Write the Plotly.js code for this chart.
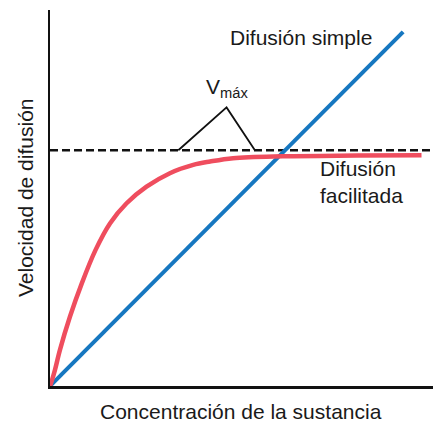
<!DOCTYPE html>
<html>
<head>
<meta charset="utf-8">
<script src="https://cdn.plot.ly/plotly-3.0.1.min.js"></script>
<style>
  html, body { margin: 0; padding: 0; background: #fff; }
  #graph { width: 433px; height: 422px; }
</style>
</head>
<body>
<div id="graph"></div>
<script>
// concentración (x) y velocidad (y), en unidades arbitrarias 0..100
const simpleX = [0, 92.2];
const simpleY = [0, 94.2];

const facilitadaX = [0, 0.5, 1.3, 2.6, 5.2, 8.3, 11.9, 15.7, 20, 25.2, 31.3, 37.4, 41.8, 47.8, 60.8, 80, 97];
const facilitadaY = [0, 1.5, 4.3, 9.6, 18.4, 27.3, 36.2, 43.3, 48.6, 53, 56.6, 58.8, 59.7, 60.6, 61.1, 61.3, 61.4];

const vmaxX = [0, 100];
const vmaxY = [62.7, 62.7];

const bracketX = [33.5, 46.1, 53.5];
const bracketY = [62.7, 74.1, 62.7];

const labels = {
  simple: 'Difusión simple',
  facilitada: 'Difusión<br>facilitada',
  vmax: 'V<sub>máx</sub>',
  xTitle: 'Concentración de la sustancia',
  yTitle: 'Velocidad de difusión'
};

const FONT = 'Liberation Sans, Arial, Helvetica, sans-serif';

function lineTrace(x, y, line) {
  return {
    type: 'scatter',
    mode: 'lines',
    x,
    y,
    hoverinfo: 'skip',
    line
  };
}

const traces = [
  lineTrace(vmaxX, vmaxY, { color: '#111111', width: 2.5, dash: '8px,4px' }),
  lineTrace(bracketX, bracketY, { color: '#111111', width: 1.8 }),
  lineTrace(simpleX, simpleY, { color: '#1677c0', width: 4 }),
  lineTrace(facilitadaX, facilitadaY, { color: '#ef4d5e', width: 4.5, shape: 'spline' })
];

const axisBase = {
  showgrid: false,
  zeroline: false,
  showticklabels: false,
  ticks: '',
  showline: true,
  linecolor: '#111111',
  linewidth: 2.5,
  fixedrange: true
};

const layout = {
  width: 433,
  height: 422,
  margin: { l: 50, r: 0, t: 10, b: 36 },
  paper_bgcolor: '#ffffff',
  plot_bgcolor: '#ffffff',
  showlegend: false,
  font: { family: FONT, color: '#1a1a1a', size: 21 },
  xaxis: Object.assign({ range: [0, 100] }, axisBase),
  yaxis: Object.assign({ range: [0, 100] }, axisBase),
  annotations: [
    {
      x: 65.5, y: 92.6, text: labels.simple, showarrow: false,
      xanchor: 'center', yanchor: 'middle'
    },
    {
      x: 40.2, y: 79.3, text: labels.vmax, showarrow: false,
      xanchor: 'left', yanchor: 'middle'
    },
    {
      x: 70, y: 54.3, text: labels.facilitada, showarrow: false,
      xanchor: 'left', yanchor: 'middle', align: 'left'
    },
    {
      xref: 'paper', yref: 'paper', x: 0.499, y: 0, yshift: -25,
      text: labels.xTitle, showarrow: false, xanchor: 'center', yanchor: 'middle'
    },
    {
      xref: 'paper', yref: 'paper', x: 0, y: 0.5, xshift: -25,
      text: labels.yTitle, showarrow: false, textangle: -90,
      xanchor: 'center', yanchor: 'middle'
    }
  ]
};

Plotly.newPlot('graph', traces, layout, { displayModeBar: false, staticPlot: true });
</script>
</body>
</html>
